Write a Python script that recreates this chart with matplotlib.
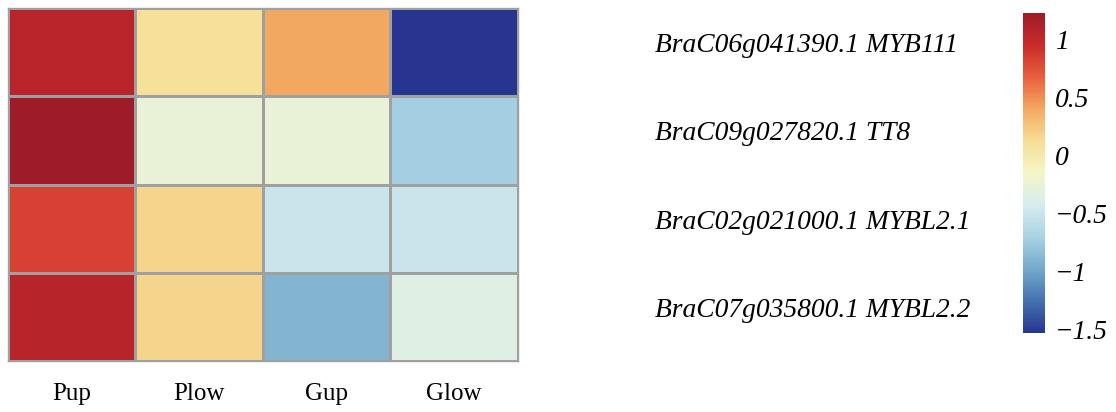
import numpy as np
import matplotlib
matplotlib.use("Agg")
import matplotlib.pyplot as plt
from matplotlib.colors import Normalize, LinearSegmentedColormap

samples = ["Pup", "Plow", "Gup", "Glow"]
genes = ["BraC06g041390.1 MYB111",
         "BraC09g027820.1 TT8",
         "BraC02g021000.1 MYBL2.1",
         "BraC07g035800.1 MYBL2.2"]
row_myb111 = [1.05, 0.10, 0.40, -1.53]
row_tt8 = [1.23, -0.25, -0.25, -0.73]
row_mybl21 = [0.84, 0.18, -0.51, -0.51]
row_mybl22 = [1.06, 0.18, -0.90, -0.34]
cbar_ticks = [1, 0.5, 0, -0.5, -1, -1.5]

data = np.array([row_myb111, row_tt8, row_mybl21, row_mybl22])
vmin, vmax = -1.53, 1.23

# RdYlBu (reversed) anchors, slightly muted to match the reference rendering
palette = ["#283590", "#4472b0", "#74a9cc", "#a9d2e3", "#d7ecef", "#f4f6c8",
           "#f6de96", "#f3a963", "#e8603f", "#c92b2a", "#9e1c29"]
cmap = LinearSegmentedColormap.from_list("rdylbu_muted", palette, N=256)

plt.rcParams['font.family'] = ['Liberation Serif', 'DejaVu Serif']
W, H = 1116, 412
fig = plt.figure(figsize=(W / 100, H / 100), dpi=100)

ax = fig.add_axes([7.5 / W, (H - 361) / H, 510.5 / W, 353 / H])
norm = Normalize(vmin=vmin, vmax=vmax)
mesh = ax.pcolormesh(np.arange(len(samples) + 1), np.arange(len(genes) + 1), data,
                     cmap=cmap, norm=norm, edgecolors='#A0A0A0', linewidth=1.0)
ax.set_xlim(0, len(samples))
ax.set_ylim(len(genes), 0)
ax.set_xticks([])
ax.set_yticks([])
for s in ax.spines.values():
    s.set_color('#A0A0A0')
    s.set_linewidth(1.0)

fs = 18
fs_it = 19.8
for i, s in enumerate(samples):
    ax.annotate(s, xy=(i + 0.5, len(genes)), xycoords='data',
                xytext=(0, -39 * 0.72), textcoords='offset points',
                ha='center', va='baseline', fontsize=fs)
for j, g in enumerate(genes):
    ax.annotate(g, xy=(len(samples), j + 0.5), xycoords='data',
                xytext=(137 * 0.72, 0), textcoords='offset points',
                ha='left', va='baseline', fontsize=fs_it, fontstyle='italic')

cax = fig.add_axes([1023 / W, (H - 333) / H, 22 / W, 320 / H])
cb = fig.colorbar(mesh, cax=cax)
cb.outline.set_visible(False)
cb.set_ticks(cbar_ticks)
cb.set_ticklabels([("\u2212" if t < 0 else "") + ("%g" % abs(t)) for t in cbar_ticks])
cax.tick_params(length=0, pad=7)
for lab in cax.get_yticklabels():
    lab.set_fontstyle('italic')
    lab.set_fontsize(fs_it)

fig.savefig("out.png", dpi=100)
